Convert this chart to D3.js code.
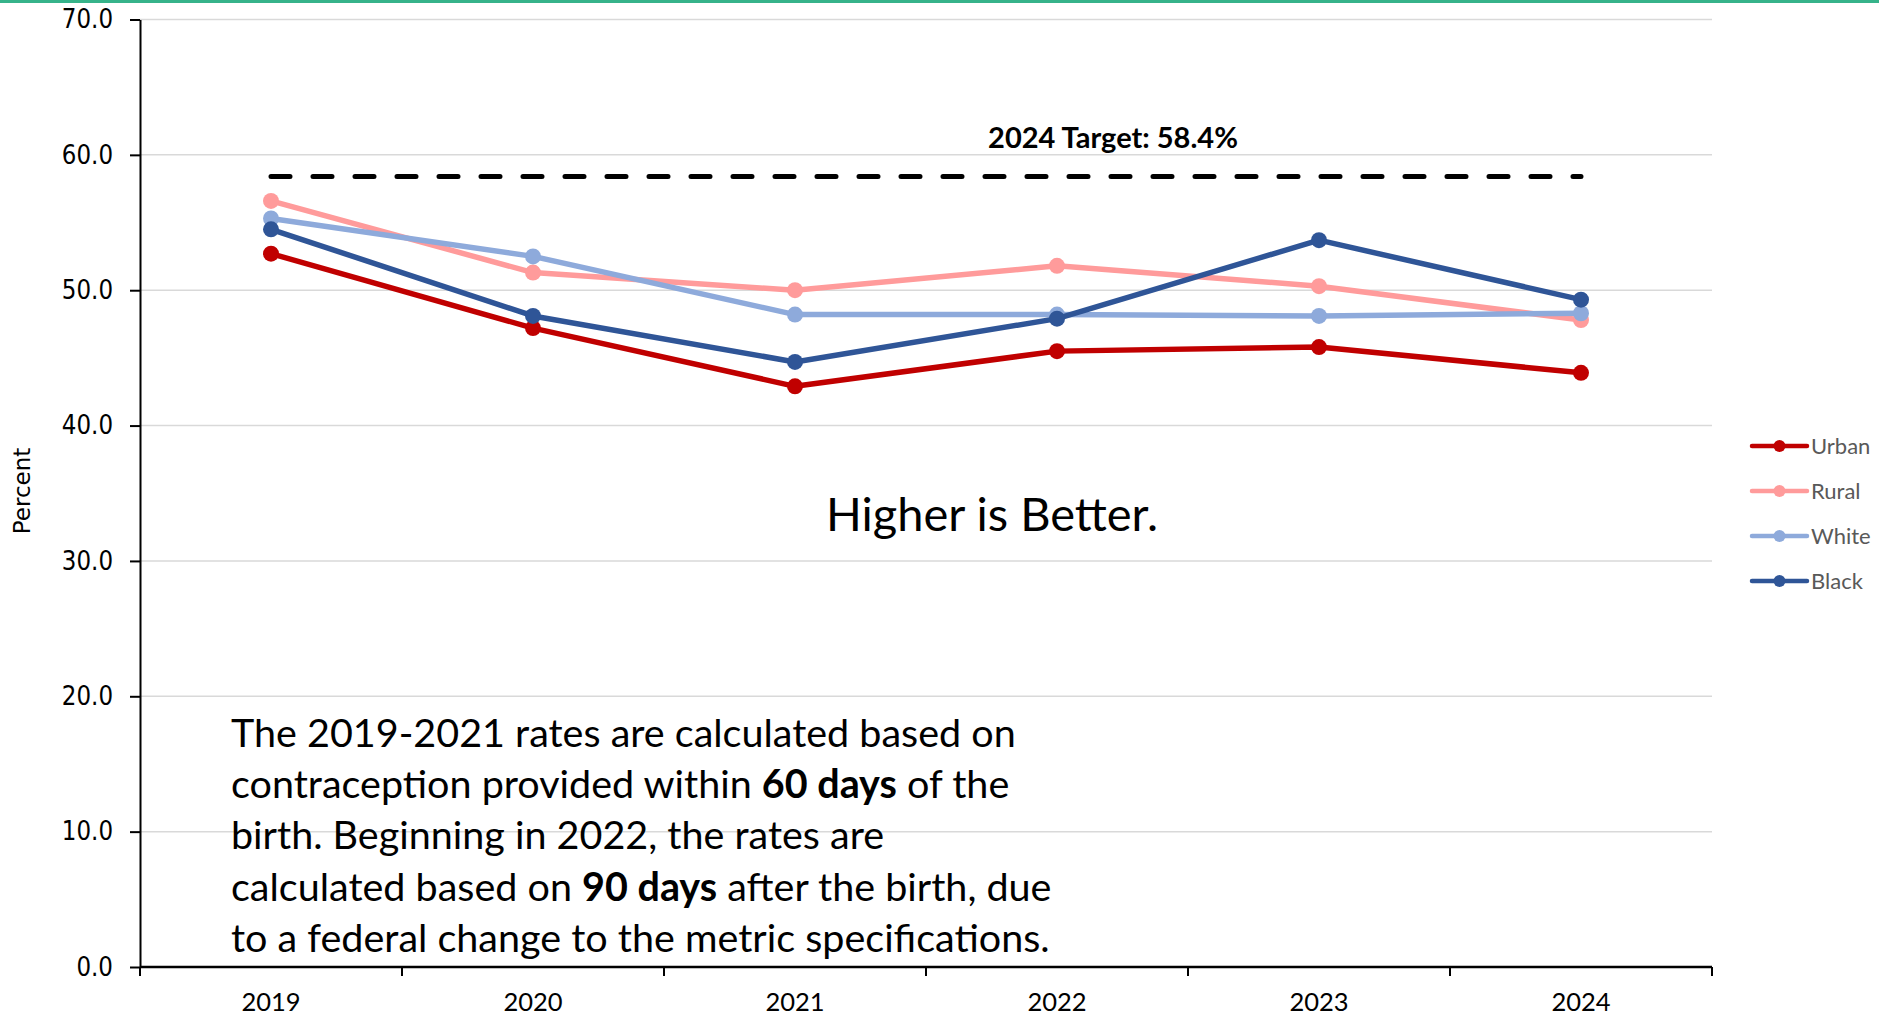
<!DOCTYPE html>
<html>
<head>
<meta charset="utf-8"/>
<script src="https://d3js.org/d3.v7.min.js"></script>
<style>
body { margin: 0; background: #fff; }
.grid line { stroke: #d9d9d9; stroke-width: 1.5px; }
.series { fill: none; stroke-width: 5.5px; stroke-linejoin: round; }
.note { font-family: Lato, sans-serif; fill: #000; }
</style>
</head>
<body>
<script>

// data
var years = ["2019", "2020", "2021", "2022", "2023", "2024"];
var urban = [52.7, 47.2, 42.9, 45.5, 45.8, 43.9];
var rural = [56.6, 51.3, 50.0, 51.8, 50.3, 47.8];
var white = [55.3, 52.5, 48.2, 48.2, 48.1, 48.3];
var black = [54.5, 48.1, 44.7, 47.9, 53.7, 49.3];
var seriesNames = ["Urban", "Rural", "White", "Black"];
var seriesColors = ["#c00000", "#ff9b9b", "#8eaadb", "#2f5597"];
var target = 58.4;
var yTicks = [0, 10, 20, 30, 40, 50, 60, 70];

var allSeries = [urban, rural, white, black];

var width = 1879, height = 1020;
var plotLeft = 140, plotRight = 1712, plotTop = 19.5, plotBottom = 967;

var svg = d3.select("body").append("svg")
    .attr("width", width)
    .attr("height", height);

// green strip on top
svg.append("rect")
    .attr("x", 0).attr("y", 0)
    .attr("width", width).attr("height", 3)
    .attr("fill", "#36b38a");

var x = d3.scaleBand()
    .domain(years)
    .range([plotLeft, plotRight])
    .padding(0);

var y = d3.scaleLinear()
    .domain([0, 70])
    .range([plotBottom, plotTop]);

function cx(d, i) { return x(years[i]) + x.bandwidth() / 2; }

// gridlines
svg.append("g").attr("class", "grid")
  .selectAll("line")
  .data(yTicks.slice(1))
  .enter().append("line")
    .attr("x1", plotLeft).attr("x2", plotRight)
    .attr("y1", function(d) { return y(d); })
    .attr("y2", function(d) { return y(d); });

// y axis
var yAxis = svg.append("g")
    .attr("transform", "translate(" + plotLeft + ",0)")
    .call(d3.axisLeft(y).tickValues(yTicks).tickFormat(d3.format(".1f")).tickSize(10).tickSizeOuter(0).tickPadding(17));
yAxis.select(".domain").attr("stroke", "#000").attr("stroke-width", 2);
yAxis.selectAll(".tick line").attr("stroke", "#000").attr("stroke-width", 2);
yAxis.selectAll("text")
    .style("font-family", "'DejaVu Sans', sans-serif")
    .style("font-size", "23px")
    .attr("transform", "scale(1,1.12)")
    .attr("fill", "#000");

// x axis labels
var xAxis = svg.append("g")
    .attr("transform", "translate(0," + plotBottom + ")")
    .call(d3.axisBottom(x).tickSize(0).tickPadding(26));
xAxis.select(".domain").remove();
xAxis.selectAll("text")
    .style("font-family", "Lato, sans-serif")
    .style("font-size", "25.5px")
    .attr("fill", "#000");

// x axis line and boundary ticks
svg.append("line")
    .attr("x1", plotLeft).attr("x2", plotRight)
    .attr("y1", plotBottom).attr("y2", plotBottom)
    .attr("stroke", "#000").attr("stroke-width", 2.5);
var bounds = years.map(function(d) { return x(d); }).concat([plotRight]);
svg.append("g").selectAll("line")
  .data(bounds)
  .enter().append("line")
    .attr("x1", function(d) { return d; })
    .attr("x2", function(d) { return d; })
    .attr("y1", plotBottom).attr("y2", plotBottom + 9)
    .attr("stroke", "#000").attr("stroke-width", 2);

// y axis title
svg.append("text")
    .attr("transform", "translate(30,491) rotate(-90)")
    .attr("text-anchor", "middle")
    .style("font-family", "'DejaVu Sans', sans-serif")
    .style("font-size", "23px")
    .text("Percent");

// target line
svg.append("line")
    .attr("x1", x(years[0]) + x.bandwidth() / 2)
    .attr("x2", x(years[years.length - 1]) + x.bandwidth() / 2)
    .attr("y1", y(target)).attr("y2", y(target))
    .attr("stroke", "#000")
    .attr("stroke-width", 5)
    .attr("stroke-linecap", "round")
    .attr("stroke-dasharray", "19,23");

svg.append("text")
    .attr("class", "note")
    .attr("x", 1113).attr("y", 148)
    .attr("text-anchor", "middle")
    .style("font-size", "29px")
    .style("font-weight", "bold")
    .text("2024 Target: " + target + "%");

// series lines
var line = d3.line()
    .x(cx)
    .y(function(d) { return y(d); });

allSeries.forEach(function(s, k) {
  var g = svg.append("g");
  g.append("path")
      .datum(s)
      .attr("class", "series")
      .attr("stroke", seriesColors[k])
      .attr("d", line);
  g.selectAll("circle")
    .data(s)
    .enter().append("circle")
      .attr("cx", cx)
      .attr("cy", function(d) { return y(d); })
      .attr("r", 8)
      .attr("fill", seriesColors[k]);
});

// legend
var legend = svg.append("g").selectAll("g")
  .data(seriesNames)
  .enter().append("g")
    .attr("transform", function(d, i) { return "translate(1752," + (446 + i * 45) + ")"; });
legend.append("line")
    .attr("x1", 0).attr("x2", 55)
    .attr("stroke", function(d, i) { return seriesColors[i]; })
    .attr("stroke-width", 4.5)
    .attr("stroke-linecap", "round");
legend.append("circle")
    .attr("cx", 27.5).attr("r", 6)
    .attr("fill", function(d, i) { return seriesColors[i]; });
legend.append("text")
    .attr("x", 59).attr("y", 8)
    .style("font-family", "Lato, sans-serif")
    .style("font-size", "22px")
    .attr("fill", "#595959")
    .text(function(d) { return d; });

// annotations
svg.append("text")
    .attr("class", "note")
    .attr("x", 992).attr("y", 531)
    .attr("text-anchor", "middle")
    .style("font-size", "47px")
    .text("Higher is Better.");

var noteLines = [
  [["The 2019-2021 rates are calculated based on", false]],
  [["contraception provided within ", false], ["60 days", true], [" of the", false]],
  [["birth. Beginning in 2022, the rates are", false]],
  [["calculated based on ", false], ["90 days", true], [" after the birth, due", false]],
  [["to a federal change to the metric specifications.", false]]
];
var note = svg.append("text")
    .attr("class", "note")
    .style("font-size", "39.5px");
noteLines.forEach(function(parts, i) {
  parts.forEach(function(p, j) {
    var t = note.append("tspan").text(p[0]);
    if (j === 0) t.attr("x", 231).attr("y", 747 + i * 51.2);
    if (p[1]) t.style("font-weight", "bold");
  });
});

</script>
</body>
</html>
